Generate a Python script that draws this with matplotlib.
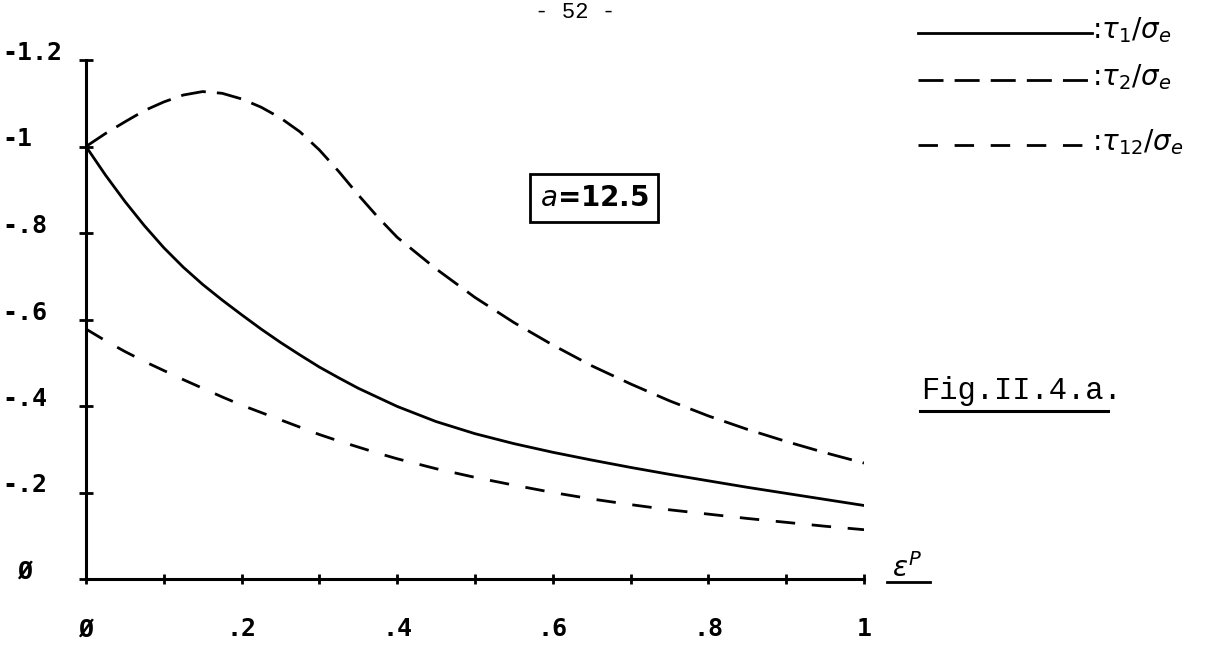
import matplotlib
matplotlib.use("Agg")
import matplotlib.pyplot as plt
from matplotlib.lines import Line2D

# values (stress ratios, plotted as negatives)
eps_p = [0.0, 0.025, 0.05, 0.075, 0.1, 0.125, 0.15, 0.175, 0.2, 0.225, 0.25, 0.275, 0.3,
         0.325, 0.35, 0.375, 0.4, 0.45, 0.5, 0.55, 0.6, 0.65, 0.7, 0.75, 0.8, 0.85,
         0.9, 0.95, 1.0]
tau1 = [1.0, 0.934, 0.873, 0.817, 0.766, 0.721, 0.681, 0.645, 0.611, 0.578, 0.547, 0.518,
        0.49, 0.465, 0.441, 0.42, 0.399, 0.364, 0.336, 0.313, 0.293, 0.275, 0.258, 0.242,
        0.227, 0.212, 0.198, 0.184, 0.17]
tau2 = [1.0, 1.03, 1.057, 1.083, 1.103, 1.119, 1.127, 1.123, 1.11, 1.091, 1.066, 1.034,
        0.992, 0.942, 0.888, 0.837, 0.79, 0.717, 0.651, 0.593, 0.541, 0.493, 0.451, 0.412,
        0.377, 0.346, 0.318, 0.292, 0.268]
tau12 = [0.578, 0.551, 0.526, 0.503, 0.482, 0.461, 0.441, 0.421, 0.402, 0.385, 0.368, 0.351,
         0.334, 0.319, 0.305, 0.291, 0.278, 0.255, 0.235, 0.217, 0.2, 0.185, 0.172, 0.16,
         0.15, 0.14, 0.131, 0.122, 0.114]

x_ticks = [0.2, 0.4, 0.6, 0.8, 1.0]
x_labels = [".2", ".4", ".6", ".8", "1"]
y_ticks = [-1.2, -1.0, -0.8, -0.6, -0.4, -0.2, 0.0]
y_labels = ["-1.2", "-1", "-.8", "-.6", "-.4", "-.2", " Ø"]

W, H = 1228, 645
fig = plt.figure(figsize=(W / 100, H / 100), dpi=100)
ax = fig.add_axes([86 / W, 66 / H, 778 / W, 519 / H])

lw = 2.0
ax.plot(eps_p, [-v for v in tau1], color="black", lw=lw)
ax.plot(eps_p, [-v for v in tau2], color="black", lw=lw, dashes=(9, 4))
ax.plot(eps_p, [-v for v in tau12], color="black", lw=lw, dashes=(7, 6))

ax.set_xlim(0, 1)
ax.set_ylim(0, -1.2)
for s in ["top", "right"]:
    ax.spines[s].set_visible(False)
for s in ["left", "bottom"]:
    ax.spines[s].set_linewidth(2.2)

mono = {"family": "DejaVu Sans Mono", "weight": "bold", "size": 18}
ax.set_xticks([i / 10 for i in range(11)], minor=True)
ax.set_xticks([0.0] + x_ticks)
ax.set_xticklabels(["Ø"] + x_labels, fontdict=mono)
ax.set_yticks(y_ticks)
ax.set_yticklabels(y_labels, fontdict=mono)
ax.tick_params(axis="x", which="both", direction="inout", length=7, width=2)
ax.tick_params(axis="x", which="major", pad=24)
ax.tick_params(axis="y", direction="inout", length=10, width=2, pad=55)
for lab in ax.get_yticklabels():
    lab.set_horizontalalignment("left")
    lab.set_verticalalignment("baseline")

# x axis label, underlined
fig.text(907 / W, 1 - 568 / H, r"$\varepsilon^P$", fontsize=20, ha="center", va="center")
fig.add_artist(Line2D([887 / W, 930 / W], [1 - 582 / H, 1 - 582 / H], color="black", lw=2))

# parameter box
fig.text(594 / W, 1 - 198 / H, r"$a$=12.5", fontsize=20, fontweight="bold", ha="center",
         va="center", bbox=dict(boxstyle="square,pad=0.35", fc="white", ec="black", lw=2))

# legend drawn by hand
leg_y = [33, 80, 145]
leg_txt = [r":$\tau_1/\sigma_e$", r":$\tau_2/\sigma_e$", r":$\tau_{12}/\sigma_e$"]
leg_dash = [None, (9, 4), (7, 6)]
for y, t, d in zip(leg_y, leg_txt, leg_dash):
    ln = Line2D([918 / W, 1092 / W], [1 - y / H, 1 - y / H], color="black", lw=lw)
    if d is not None:
        ln.set_dashes(d)
    fig.add_artist(ln)
    fig.text(1092 / W, 1 - (y - 3) / H, t, fontsize=20, ha="left", va="center")

fig.text(921 / W, 1 - 391 / H, "Fig.II.4.a.", family="Liberation Mono", fontsize=22,
         ha="left", va="center")
fig.add_artist(Line2D([920 / W, 1108 / W], [1 - 411 / H, 1 - 411 / H], color="black", lw=2.2))

fig.text(575 / W, 1 - 13 / H, "- 52 -", family="Liberation Mono", fontsize=16,
         ha="center", va="center")

fig.savefig("out.png", dpi=100)
